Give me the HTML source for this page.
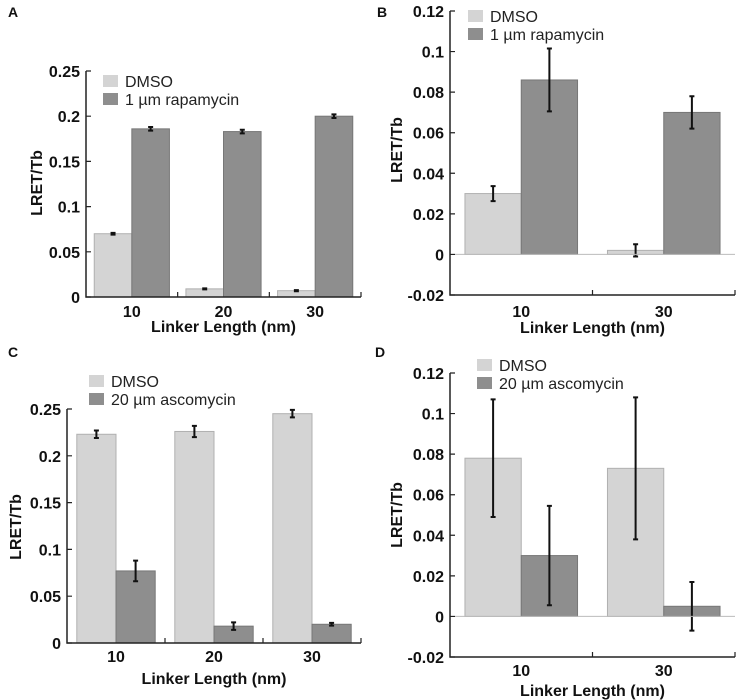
<!DOCTYPE html>
<html><head><meta charset="utf-8">
<style>
body{margin:0;background:#fff;}
svg{display:block;font-family:"Liberation Sans",Arial,sans-serif;}
.tick{font-size:16px;font-weight:bold;fill:#111;}
.ttl{font-size:16px;font-weight:bold;fill:#111;}
.leg{font-size:16px;fill:#222;}
.pl{font-size:14px;font-weight:bold;fill:#111;}
</style></head>
<body>
<svg id="fig" width="736" height="700" viewBox="0 0 736 700"></svg>
<script>
// Panel A
const catsA = ["10","20","30"];
const dmsoA = [0.070, 0.009, 0.007];
const dmsoErrA = [0.001, 0.0006, 0.0006];
const drugA = [0.186, 0.183, 0.200];
const drugErrA = [0.002, 0.002, 0.002];
const ticksA = [0, 0.05, 0.1, 0.15, 0.2, 0.25];
const tickLabA = ["0","0.05","0.1","0.15","0.2","0.25"];
// Panel B
const catsB = ["10","30"];
const dmsoB = [0.030, 0.002];
const dmsoErrB = [0.0037, 0.003];
const drugB = [0.086, 0.070];
const drugErrB = [0.0155, 0.008];
const ticksB = [-0.02, 0, 0.02, 0.04, 0.06, 0.08, 0.1, 0.12];
const tickLabB = ["-0.02","0","0.02","0.04","0.06","0.08","0.1","0.12"];
// Panel C
const catsC = ["10","20","30"];
const dmsoC = [0.223, 0.226, 0.245];
const dmsoErrC = [0.004, 0.006, 0.004];
const drugC = [0.077, 0.018, 0.020];
const drugErrC = [0.011, 0.004, 0.0015];
const ticksC = [0, 0.05, 0.1, 0.15, 0.2, 0.25];
const tickLabC = ["0","0.05","0.1","0.15","0.2","0.25"];
// Panel D
const catsD = ["10","30"];
const dmsoD = [0.078, 0.073];
const dmsoErrD = [0.029, 0.035];
const drugD = [0.030, 0.005];
const drugErrD = [0.0245, 0.012];
const ticksD = [-0.02, 0, 0.02, 0.04, 0.06, 0.08, 0.1, 0.12];
const tickLabD = ["-0.02","0","0.02","0.04","0.06","0.08","0.1","0.12"];

const NS="http://www.w3.org/2000/svg";
const svg=document.getElementById('fig');
function mk(tag,attrs,parent){const e=document.createElementNS(NS,tag);for(const k in attrs)e.setAttribute(k,attrs[k]);(parent||svg).appendChild(e);return e;}

function panel(p){
  const g=mk('g',{});
  
  
  const y=v=>p.y0+(v-p.vmin)/(p.vmax-p.vmin)*(p.y1-p.y0);
  const n=p.cats.length, gw=(p.xr-p.xl)/n;
  const t=mk('text',{x:p.lx,y:p.ly,class:'pl'},g);t.textContent=p.id;
  
  
  for(let i=0;i<n;i++){
    const gx=p.xl+i*gw, m=gw*p.frac, bw=(gw-2*m)/2;
    const series=[[p.d1[i],p.e1[i],'#d4d4d4','#b0b0b0'],[p.d2[i],p.e2[i],'#8e8e8e','#777']];
    series.forEach((s,j)=>{
      const x=gx+m+j*bw, yt=y(Math.max(s[0],0)), yb=y(Math.min(s[0],0));
      const r=mk('rect',{x:x,y:yt,width:bw,height:Math.max(yb-yt,0.5),fill:s[2],stroke:s[3],'stroke-width':1},g);
      
      
      const cx=x+bw/2, ya=y(s[0]+s[1]), yb2=y(s[0]-s[1]);
      const eb=mk('path',{d:`M${cx},${ya}V${yb2}M${cx-2.5},${ya}H${cx+2.5}M${cx-2.5},${yb2}H${cx+2.5}`,stroke:'#111','stroke-width':2,fill:'none'},g);
      
      
    });
    const lab=mk('text',{x:gx+gw/2,y:p.xly,'text-anchor':'middle',class:'tick'},g);lab.textContent=p.cats[i];
    
    
  }
  if(p.vmin<0){mk('line',{x1:p.xl,x2:p.xr,y1:y(0),y2:y(0),stroke:'#bbb','stroke-width':1},g);}
  const yb=y(p.vmin);
  const ax=mk('path',{d:`M${p.xl},${y(p.vmax)}V${yb}H${p.xr}`,stroke:'#222','stroke-width':1.5,fill:'none'},g);
  
  
  let d='';
  p.ticks.forEach(v=>{d+=`M${p.xl},${y(v)}H${p.xl+5}`;});
  for(let i=1;i<=n;i++){const x=p.xl+i*gw;d+=`M${x},${yb}V${yb-5}`;}
  mk('path',{d:d,stroke:'#222','stroke-width':1.2,fill:'none'},g);
  p.ticks.forEach((v,k)=>{const tt=mk('text',{x:p.xl-6,y:y(v)+6,'text-anchor':'end',class:'tick'},g);tt.textContent=p.tl[k];
    
    });
  const xt=mk('text',{x:(p.xl+p.xr)/2,y:p.xty,'text-anchor':'middle',class:'ttl'},g);xt.textContent='Linker Length (nm)';
  
  
  const yt=mk('text',{x:0,y:0,'text-anchor':'middle',class:'ttl',transform:`translate(${p.ytx},${p.yty}) rotate(-90)`},g);yt.textContent='LRET/Tb';
  
  
  [['DMSO','#d4d4d4'],[p.drug,'#8e8e8e']].forEach((L,k)=>{
    const ly=p.legY+k*18;
    const sw=mk('rect',{x:p.legX,y:ly-6,width:15,height:12,fill:L[1]},g);
    
    
    const lt=mk('text',{x:p.legX+22,y:ly+6,class:'leg'},g);lt.textContent=L[0];
    
    
  });
}
panel({id:'A',lx:8,ly:17,cats:catsA,d1:dmsoA,e1:dmsoErrA,d2:drugA,e2:drugErrA,ticks:ticksA,tl:tickLabA,vmin:0,vmax:0.25,y0:297,y1:71,xl:86,xr:361,frac:0.09,xly:317,xty:332,ytx:42,yty:183,legX:103,legY:81,drug:'1 \u00b5m rapamycin'});
panel({id:'B',lx:377,ly:17,cats:catsB,d1:dmsoB,e1:dmsoErrB,d2:drugB,e2:drugErrB,ticks:ticksB,tl:tickLabB,vmin:-0.02,vmax:0.12,y0:295,y1:11,xl:450,xr:735,frac:0.105,xly:317,xty:333,ytx:402,yty:150,legX:468,legY:16,drug:'1 \u00b5m rapamycin'});
panel({id:'C',lx:8,ly:357,cats:catsC,d1:dmsoC,e1:dmsoErrC,d2:drugC,e2:drugErrC,ticks:ticksC,tl:tickLabC,vmin:0,vmax:0.25,y0:643,y1:409,xl:67,xr:361,frac:0.1,xly:662,xty:684,ytx:21,yty:527,legX:89,legY:381,drug:'20 \u00b5m ascomycin'});
panel({id:'D',lx:375,ly:357,cats:catsD,d1:dmsoD,e1:dmsoErrD,d2:drugD,e2:drugErrD,ticks:ticksD,tl:tickLabD,vmin:-0.02,vmax:0.12,y0:657,y1:373,xl:450,xr:735,frac:0.105,xly:676,xty:696,ytx:402,yty:515,legX:477,legY:365,drug:'20 \u00b5m ascomycin'});
</script>
</body></html>
